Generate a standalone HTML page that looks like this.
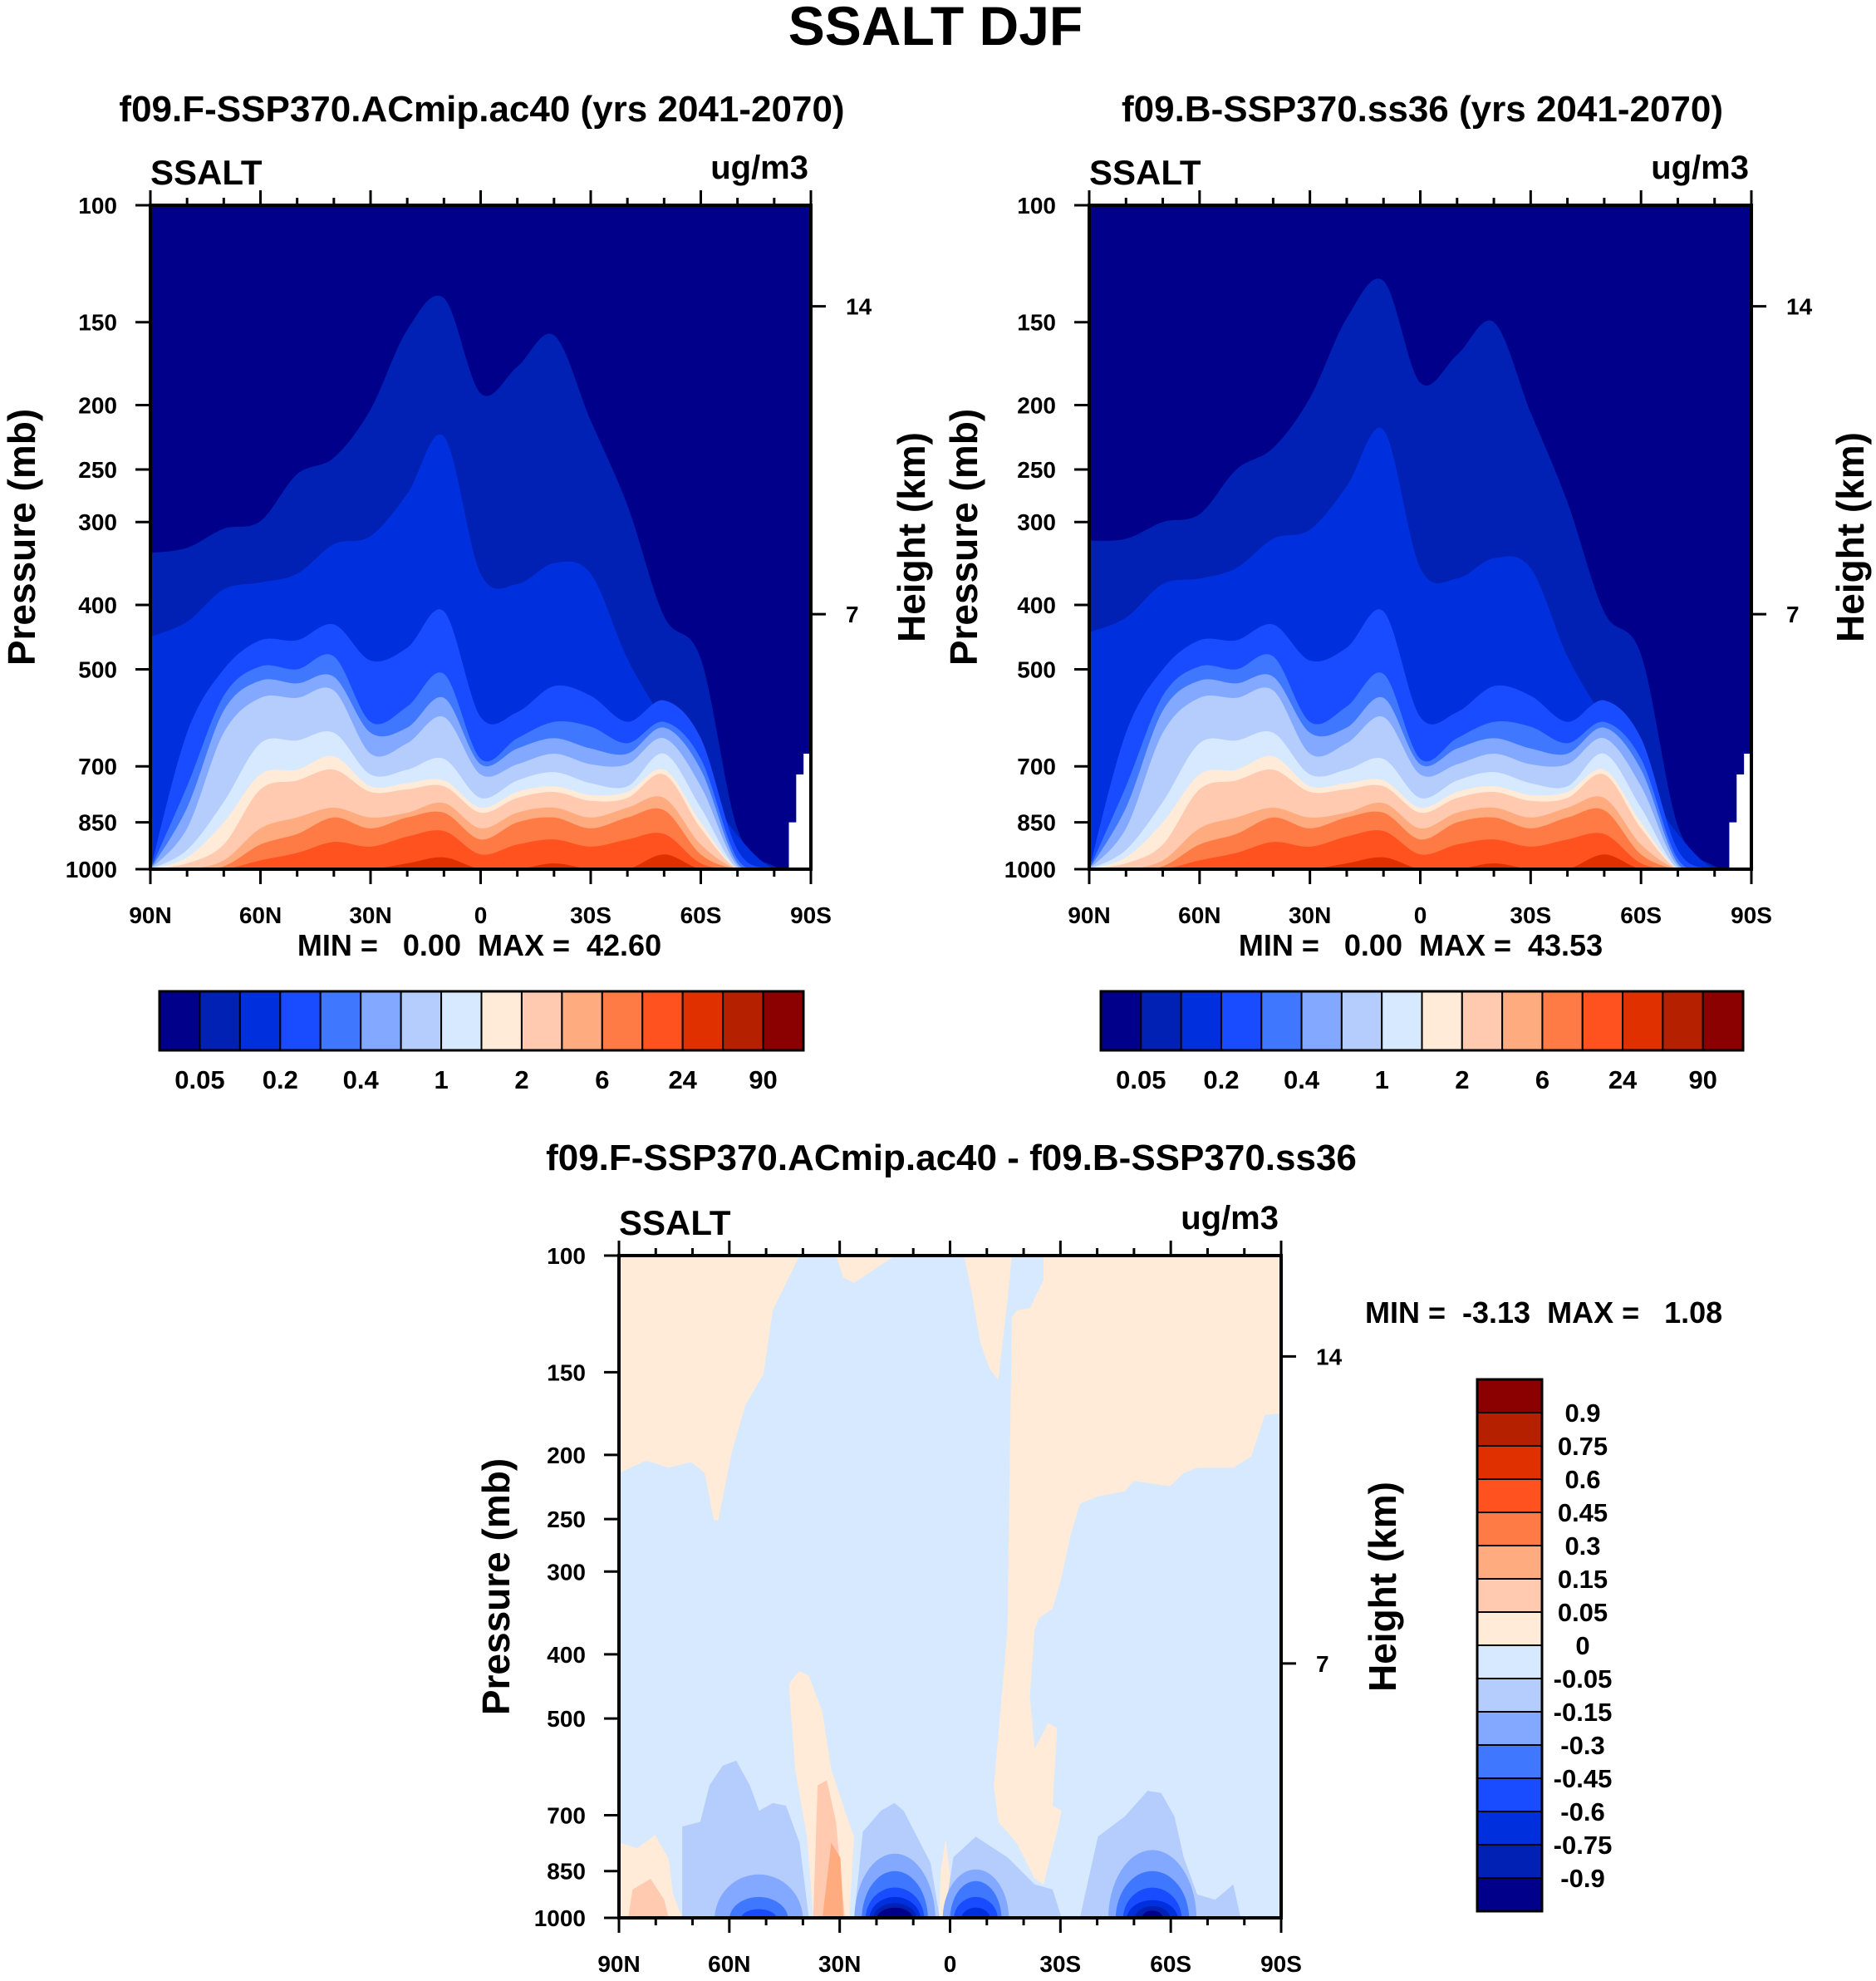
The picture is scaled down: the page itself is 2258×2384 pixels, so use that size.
<!DOCTYPE html>
<html><head><meta charset="utf-8"><style>
html,body{margin:0;padding:0;background:#fff}
svg{display:block}
text{font-family:"Liberation Sans",sans-serif;font-weight:bold;fill:#000}
</style></head><body>
<svg id="fig" width="2258" height="2384" viewBox="0 0 2258 2384" xmlns="http://www.w3.org/2000/svg">
<text x="1126" y="54" font-size="66" text-anchor="middle">SSALT DJF</text>
<text x="580" y="146" font-size="44" text-anchor="middle">f09.F-SSP370.ACmip.ac40 (yrs 2041-2070)</text>
<text x="1712" y="146" font-size="44" text-anchor="middle">f09.B-SSP370.ss36 (yrs 2041-2070)</text>
<text x="1145" y="1408" font-size="44" text-anchor="middle">f09.F-SSP370.ACmip.ac40 - f09.B-SSP370.ss36</text>
<text x="577" y="1150" font-size="36" text-anchor="middle" xml:space="preserve">MIN =   0.00  MAX =  42.60</text>
<text x="1710" y="1150" font-size="36" text-anchor="middle" xml:space="preserve">MIN =   0.00  MAX =  43.53</text>
<text x="1643" y="1592" font-size="36" xml:space="preserve">MIN =  -3.13  MAX =   1.08</text>
</svg>
<script>
// ---------- data ----------
const lats = [90,80,70,60,50,40,30,20,10,0,-10,-20,-30,-40,-50,-60,-70,-80,-90];
const absColors = ["#00008b","#0021b4","#0030dd","#1a4cff","#3f78ff","#82a8ff","#b4cdfc","#d7e9ff","#ffebd7","#ffcab0","#ffab80","#ff7b45","#ff521e","#e03000","#b52000","#8b0000"];
const absLabels = ["0.05","0.2","0.4","1","2","6","24","90"];
const diffColors = ["#00008b","#0021b4","#0030dd","#1a4cff","#3f78ff","#82a8ff","#b4cdfc","#d7e9ff","#ffebd7","#ffcab0","#ffab80","#ff7b45","#ff521e","#e03000","#b52000","#8b0000"];
const diffLabels = ["-0.9","-0.75","-0.6","-0.45","-0.3","-0.15","-0.05","0","0.05","0.15","0.3","0.45","0.6","0.75","0.9"];
const pTicks = [100,150,200,250,300,400,500,700,850,1000];
const heightTicks = [14,7];
const heightTickP = [142,413];
const xTickLats = [90,60,30,0,-30,-60,-90];
const xTickLabels = ["90N","60N","30N","0","30S","60S","90S"];

const lev1 = [334,328,307,299,254,240,203,154,138,192,175,157,211,283,416,482,870,990,1000];
const lev2 = [447,424,379,370,359,324,315,272,223,359,372,346,359,482,600,735,890,1000,1000];
const lev3 = [1000,623,500,452,452,428,485,464,409,590,580,530,548,600,557,635,935,1000,1000];
const lev4 = [1000,750,548,495,500,478,600,569,508,682,635,600,610,646,600,682,965,1000,1000];
const lev5 = [1000,808,577,520,525,513,623,612,552,695,658,635,658,670,612,708,980,1000,1000];
const lev6 = [1000,868,623,552,552,538,670,646,590,720,695,670,695,695,635,750,990,1000,1000];
const lev7 = [1000,935,792,646,640,623,720,708,682,781,735,714,742,750,670,808,1000,1000,1000];
const lev8 = [1000,960,850,720,708,676,750,742,735,808,765,750,773,765,708,850,1000,1000,1000];
const lev9 = [1000,980,918,758,735,708,765,758,750,822,781,765,789,781,720,868,1000,1000,1000];
const lev10 = [1000,1000,970,868,836,808,836,822,795,868,822,808,836,808,781,918,1000,1000,1000];
const lev11 = [1000,1000,990,918,885,836,868,836,822,902,850,836,868,836,815,950,1000,1000,1000];
const lev12 = [1000,1000,1000,970,945,910,925,893,876,950,918,902,925,902,885,980,1000,1000,1000];
const lev13 = [1000,1000,1000,1000,1000,1000,1000,980,960,1000,1000,980,1000,1000,950,1000,1000,1000,1000];
const levelsA = [lev1,lev2,lev3,lev4,lev5,lev6,lev7,lev8,lev9,lev10,lev11,lev12,lev13];

const rlev1 = [320,318,300,292,250,232,195,148,130,185,168,150,205,280,410,475,860,990,1000];
const rlev2 = [440,418,372,365,352,318,308,265,218,352,365,340,352,478,595,730,885,1000,1000];
const levelsB = [rlev1,rlev2,lev3,lev4,lev5,lev6,lev7,lev8,lev9,lev10,lev11,lev12,lev13];

const missingLat = [-84,-84,-86,-86,-88,-88,-90];
const missingP = [1000,850,850,720,720,670,670];

const peachLeft = [[90,100],[40.9,100],[48.2,121],[50.7,151],[55.6,168],[59.3,198],[63,251],[64.2,251],[66.7,213],[70.4,205],[76.5,209],[82.6,204],[90,213]];
const peachTop30 = [[31,100],[15,100],[26.1,110],[29,108]];
const peachSpikeEq = [[-3.8,100],[-16.8,100],[-15.6,117],[-13.1,154],[-10.7,148],[-8.2,135],[-5.8,113]];
const peachRight = [[-25.4,100],[-90,100],[-90,173],[-85.6,174],[-81.9,201],[-77,209],[-67.2,209],[-63.5,213],[-59.8,223],[-50,219],[-47.5,227],[-40.2,231],[-35.3,237],[-32.8,264],[-30.3,306],[-27.9,341],[-24.2,353],[-23,367],[-21.7,463],[-23,556],[-26.7,508],[-29.1,517],[-27.9,677],[-30.3,689],[-29.1,741],[-25.4,890],[-23,873],[-18.1,770],[-13.1,716],[-11.9,631],[-14.4,439],[-15.6,367],[-16.8,124],[-18.1,121],[-21.7,120],[-25.4,109]];
const peachSpike30 = [[43.3,439],[40.9,424],[38.4,431],[34.7,489],[32.3,597],[28.6,689],[26.1,754],[27.4,1000],[37.2,1000],[38.9,754],[42.1,597],[43.8,447]];
const peach2Spike30 = [[37.2,1000],[36,631],[33.5,620],[31,716],[28.6,1000]];
const peach3Spike30 = [[34.7,1000],[32.3,770],[29.8,812],[29,1000]];
const peachLowLeft = [[90,770],[85.1,785],[80.2,750],[76.5,814],[75.3,922],[72.8,1000],[90,1000]];
const peach2LowLeft = [[87.5,1000],[86.3,906],[81.4,873],[77.7,939],[76.5,1000]];
const peachSmallEq = [[3,1000],[2.5,850],[1.2,760],[0,860],[0.5,1000]];
const blueA = [[72.8,1000],[72.8,728],[67.9,716],[65.4,631],[61.8,589],[58.1,579],[54.4,631],[51.9,689],[48.2,671],[44.6,677],[40.9,770],[38.4,1000]];
const blueB = [[26.1,1000],[23.7,741],[18.8,689],[15.1,671],[12.6,689],[9,754],[5.3,826],[2.8,1000]];
const blueC = [[1.6,1000],[-0.9,810],[-7,754],[-15.6,810],[-23,890],[-27.9,906],[-30.3,1000]];
const blueD = [[-35.3,1000],[-40.2,754],[-47.5,703],[-53.7,643],[-57.4,648],[-61,703],[-63.5,810],[-67.2,922],[-72.1,939],[-77,890],[-79,1000]];
const domeLat = [52,52,52, 15,15,15,15,15,15, -7,-7,-7,-7, -55,-55,-55,-55,-55,-55];
const domeHalf = [12,8,5, 11,9,8,7,6,5, 9,7,6,4, 12,10,8,7,5,3];
const domeTop = [860,930,970, 800,850,900,930,950,965, 845,880,930,965, 790,850,900,940,960,975];
const domeCol = [5,4,3, 5,4,3,2,1,0, 5,4,3,2, 5,4,3,2,1,0];

// ---------- drawing ----------
const NS = "http://www.w3.org/2000/svg";
const svg = document.getElementById('fig');
function mk(tag, attrs, parent){ const e=document.createElementNS(NS,tag); for(const k in attrs) e.setAttribute(k,attrs[k]); (parent||svg).appendChild(e); return e; }

function makeAxes(L,R,T,B){
  return {
    x: lat => L + (90-lat)/180*(R-L),
    y: p => T + (Math.log10(p)-2)*(B-T)
  };
}
function smoothPath(pts){
  let d = "M"+pts[0][0].toFixed(1)+","+pts[0][1].toFixed(1);
  for(let i=0;i<pts.length-1;i++){
    const p0=pts[Math.max(i-1,0)], p1=pts[i], p2=pts[i+1], p3=pts[Math.min(i+2,pts.length-1)];
    const c1=[p1[0]+(p2[0]-p0[0])/6, p1[1]+(p2[1]-p0[1])/6];
    const c2=[p2[0]-(p3[0]-p1[0])/6, p2[1]-(p3[1]-p1[1])/6];
    d += " C"+c1[0].toFixed(1)+","+c1[1].toFixed(1)+" "+c2[0].toFixed(1)+","+c2[1].toFixed(1)+" "+p2[0].toFixed(1)+","+p2[1].toFixed(1);
  }
  return d;
}

function frame(g, ax, L,R,T,B, names){
  const ylab = mk('text',{x:names.pX,y:(T+B)/2,'font-size':46,'text-anchor':'middle',transform:`rotate(-90 ${names.pX} ${(T+B)/2})`},g);
  ylab.textContent='Pressure (mb)';
  
  
  const hlab = mk('text',{x:names.hX,y:(T+B)/2,'font-size':46,'text-anchor':'middle',transform:`rotate(-90 ${names.hX} ${(T+B)/2})`},g);
  hlab.textContent='Height (km)';
  
  
  const ss = mk('text',{x:L,y:T-25,'font-size':42},g); ss.textContent='SSALT';
  
  
  const un = mk('text',{x:R-3,y:T-32,'font-size':40,'text-anchor':'end'},g); un.textContent='ug/m3';
  
  
  const bd = mk('rect',{x:L,y:T,width:R-L,height:B-T,fill:'none',stroke:'#000','stroke-width':4},g);
  
  
  for(let lat=90; lat>=-90; lat-=10){
    const x=ax.x(lat); const major = (lat%30===0); const len = major?18:9;
    mk('line',{x1:x,y1:B,x2:x,y2:B+len,stroke:'#000','stroke-width':3},g);
    mk('line',{x1:x,y1:T,x2:x,y2:T-len,stroke:'#000','stroke-width':3},g);
  }
  xTickLats.forEach((lat,i)=>{
    const t = mk('text',{x:ax.x(lat),y:B+65,'font-size':28,'text-anchor':'middle'},g);
    t.textContent = xTickLabels[i];
    
    
  });
  pTicks.forEach(p=>{
    const y=ax.y(p);
    mk('line',{x1:L-18,y1:y,x2:L,y2:y,stroke:'#000','stroke-width':3},g);
    const t = mk('text',{x:L-40,y:y+10,'font-size':28,'text-anchor':'end'},g);
    t.textContent = String(p);
    
    
  });
  heightTicks.forEach((h,i)=>{
    const y=ax.y(heightTickP[i]);
    mk('line',{x1:R,y1:y,x2:R+18,y2:y,stroke:'#000','stroke-width':3},g);
    const t = mk('text',{x:R+42,y:y+10,'font-size':28},g);
    t.textContent = String(h);
    
    
  });
}

function absPlot(name, L,R,T,B, levels, pX, hX){
  const g = mk('g',{});
  
  
  const ax = makeAxes(L,R,T,B);
  const cid = name+'-clip';
  const cp = mk('clipPath',{id:cid},g); mk('rect',{x:L,y:T,width:R-L,height:B-T},cp);
  const field = mk('g',{'clip-path':`url(#${cid})`},g);
  const bg = mk('rect',{x:L,y:T,width:R-L,height:B-T,fill:absColors[0]},field);
  
  
  levels.forEach((arr,k)=>{
    const pts = lats.map((lat,i)=>[ax.x(lat), ax.y(arr[i])]);
    const d = `M${ax.x(90)},${ax.y(1000)+2} L` + pts[0][0]+","+pts[0][1] + smoothPath(pts).replace(/^M[^ ]+/,'') + ` L${ax.x(-90)},${ax.y(1000)+2} Z`;
    const path = mk('path',{d:d,fill:absColors[k+1]},field);
    
    
  });
  let md = missingLat.map((lat,i)=>(i?'L':'M')+ax.x(lat)+','+ax.y(missingP[i])).join(' ')+` L${ax.x(-90)},${ax.y(1000)} Z`;
  const miss = mk('path',{d:md,fill:'#fff'},field);
  
  
  frame(g, ax, L,R,T,B, {pX:pX,hX:hX});
}

function colorbarH(name, L,R,T,B){
  const g = mk('g',{});
  
  
  const w=(R-L)/absColors.length;
  absColors.forEach((c,i)=>{
    const r = mk('rect',{x:L+i*w,y:T,width:w,height:B-T,fill:c,stroke:'#000','stroke-width':2},g);
    
    
  });
  mk('rect',{x:L,y:T,width:R-L,height:B-T,fill:'none',stroke:'#000','stroke-width':3},g);
  absLabels.forEach((lab,i)=>{
    const t = mk('text',{x:L+(2*i+1)*w,y:B+46,'font-size':31,'text-anchor':'middle'},g);
    t.textContent=lab;
    
    
  });
}

absPlot('left-plot',181,976,247,1046,levelsA,42,1113);
absPlot('right-plot',1311,2108,247,1046,levelsB,1176,2243);
colorbarH('left-colorbar',192,967,1193,1264);
colorbarH('right-colorbar',1325,2098,1193,1264);

(function(){
  const L=745,R=1542,T=1511,B=2308;
  const g = mk('g',{});
  
  
  const ax = makeAxes(L,R,T,B);
  const cp = mk('clipPath',{id:'diff-clip'},g); mk('rect',{x:L,y:T,width:R-L,height:B-T},cp);
  const field = mk('g',{'clip-path':'url(#diff-clip)'},g);
  const bg = mk('rect',{x:L,y:T,width:R-L,height:B-T,fill:diffColors[7]},field);
  
  
  function poly(arr, col, nm){
    const d = arr.map((q,i)=>(i?'L':'M')+ax.x(q[0]).toFixed(1)+','+ax.y(q[1]).toFixed(1)).join(' ')+' Z';
    const p = mk('path',{d:d,fill:col,'stroke-linejoin':'round'},field);
    
    
  }
  poly(peachLeft,diffColors[8],'positive-region');
  poly(peachTop30,diffColors[8],'positive-region');
  poly(peachSpikeEq,diffColors[8],'positive-region');
  poly(peachRight,diffColors[8],'positive-region');
  poly(peachSpike30,diffColors[8],'positive-region');
  poly(peach2Spike30,diffColors[9],'positive-region');
  poly(peach3Spike30,diffColors[10],'positive-region');
  poly(peachLowLeft,diffColors[8],'positive-region');
  poly(peach2LowLeft,diffColors[9],'positive-region');
  poly(peachSmallEq,diffColors[8],'positive-region');
  poly(blueA,diffColors[6],'negative-region');
  poly(blueB,diffColors[6],'negative-region');
  poly(blueC,diffColors[6],'negative-region');
  poly(blueD,diffColors[6],'negative-region');
  domeLat.forEach((c,i)=>{
    const x1=ax.x(c+domeHalf[i]), x2=ax.x(c-domeHalf[i]);
    const yb=ax.y(1000)+2, yt=ax.y(domeTop[i]);
    const rx=(x2-x1)/2, ry=yb-yt;
    const p = mk('path',{d:`M${x1},${yb} A${rx},${ry} 0 0 1 ${x2},${yb} Z`,fill:diffColors[domeCol[i]]},field);
    
    
  });
  frame(g, ax, L,R,T,B, {pX:613,hX:1680});
})();

(function(){
  const L=1778,R=1856,T=1660,B=2300;
  const g = mk('g',{});
  
  
  const h=(B-T)/diffColors.length;
  diffColors.forEach((c,i)=>{
    const r = mk('rect',{x:L,y:B-(i+1)*h,width:R-L,height:h,fill:c,stroke:'#000','stroke-width':2},g);
    
    
  });
  mk('rect',{x:L,y:T,width:R-L,height:B-T,fill:'none',stroke:'#000','stroke-width':3},g);
  diffLabels.forEach((lab,i)=>{
    const y = B-(i+1)*h;
    const t = mk('text',{x:1905,y:y+11,'font-size':31,'text-anchor':'middle'},g);
    t.textContent=lab;
    
    
  });
})();
</script>
</body></html>
